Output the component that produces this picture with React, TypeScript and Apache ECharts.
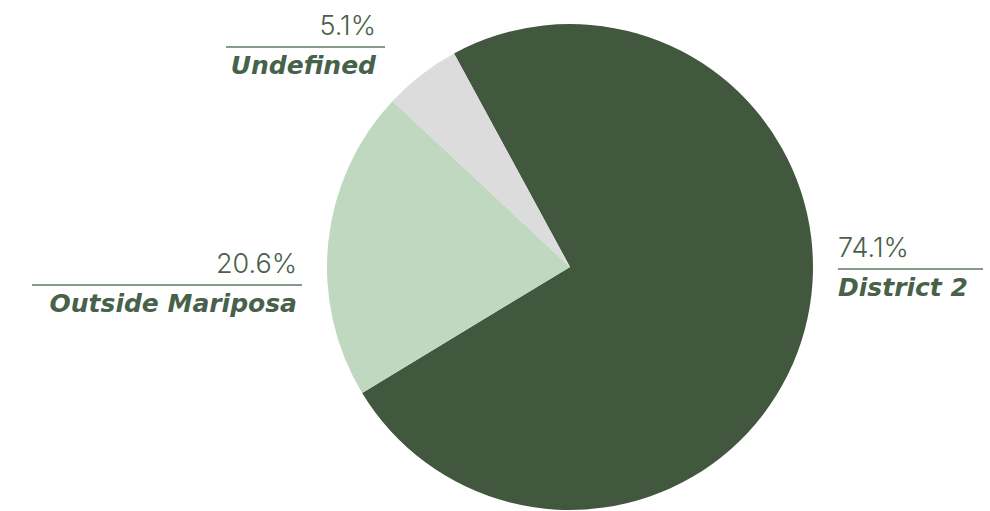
import React, { useEffect, useRef } from "react";
import * as echarts from "echarts";

const categories = ["District 2", "Outside Mariposa", "Undefined"];
const shares = [74.1, 20.6, 5.1];
const sliceColors = ["#42583e", "#bfd8bf", "#dcdcdc"];

// label placement per category: separator line y, anchor x, box width, alignment, side padding
const labelPlacement = [
  { x: 838, y: 269, width: 145, align: "left", side: 0 },
  { x: 302, y: 285, width: 270, align: "right", side: 5 },
  { x: 385, y: 47, width: 159, align: "right", side: 9 },
];
const PCT_LH = 44;
const NAME_LH = 36;

const TEXT = "#47614a";

export default function App() {
  const ref = useRef<HTMLDivElement>(null);
  useEffect(() => {
    if (!ref.current) return;
    const chart = echarts.init(ref.current, undefined, { renderer: "svg" });
    chart.setOption({
      animation: false,
      backgroundColor: "#ffffff",
      series: [
        {
          type: "pie",
          center: [570, 267],
          radius: [0, 243],
          startAngle: 118.5,
          clockwise: true,
          avoidLabelOverlap: false,
          itemStyle: { borderWidth: 0 },
          emphasis: { disabled: true },
          labelLine: { show: false },
          data: categories.map((name, i) => {
            const p = labelPlacement[i];
            const r = p.align === "right" ? p.side : 0;
            const l = p.align === "left" ? p.side : 0;
            return {
              name,
              value: shares[i],
              itemStyle: { color: sliceColors[i] },
              label: {
                width: p.width,
                rich: {
                  pct: {
                    fontFamily: "Inter",
                    fontWeight: 300,
                    fontSize: 27,
                    color: TEXT,
                    lineHeight: PCT_LH,
                    align: p.align,
                    padding: [0, r, 0, l],
                  },
                  hr: {
                    borderColor: "#5f7a60",
                    borderWidth: 1,
                    width: "100%",
                    height: 0,
                    align: p.align,
                  },
                  name: {
                    fontFamily: "DejaVu Sans",
                    fontWeight: "bold",
                    fontStyle: "italic",
                    fontSize: 25,
                    color: TEXT,
                    lineHeight: NAME_LH,
                    align: p.align,
                    padding: [0, r, 0, l],
                  },
                },
              },
            };
          }),
          label: {
            show: true,
            position: "outside",
            formatter: (params: any) =>
              `{pct|${Number(params.value).toFixed(1)}%}\n{hr|}\n{name|${params.name}}`,
          },
          labelLayout: (params: any) => {
            const p = labelPlacement[params.dataIndex];
            return {
              x: p.x,
              y: p.y - (PCT_LH - NAME_LH) / 2,
              align: p.align,
              verticalAlign: "middle",
              hideOverlap: false,
            };
          },
        },
      ],
    });
    return () => chart.dispose();
  }, []);
  return (
    <div
      ref={ref}
      style={{ position: "fixed", left: 0, top: 0, width: 990, height: 511 }}
    />
  );
}
